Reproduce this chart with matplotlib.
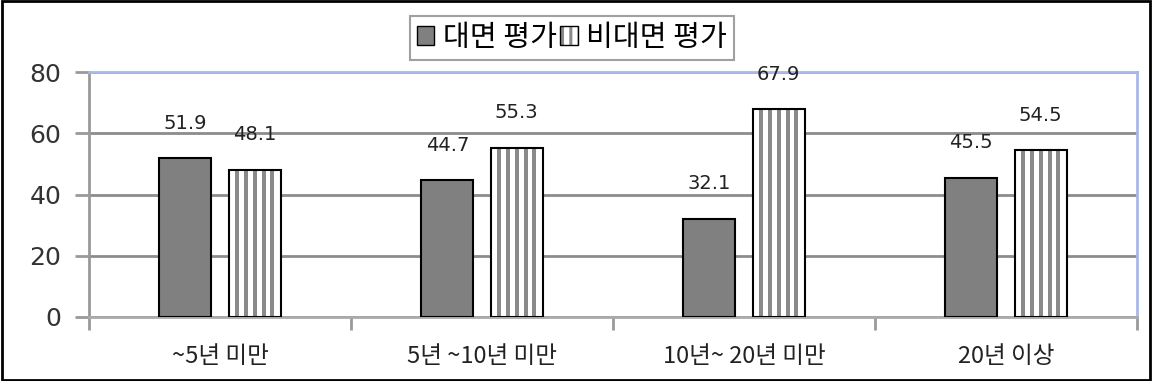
import matplotlib
matplotlib.use("Agg")
import matplotlib.pyplot as plt
import numpy as np
from matplotlib.patches import Patch
from matplotlib.legend_handler import HandlerTuple

plt.rcParams['font.family'] = ['Noto Sans CJK KR', 'DejaVu Sans']
plt.rcParams['hatch.linewidth'] = 2.2

categories = ['~5년 미만', '5년 ~10년 미만', '10년~ 20년 미만', '20년 이상']
face_to_face = [51.9, 44.7, 32.1, 45.5]
non_face = [48.1, 55.3, 67.9, 54.5]
series_names = ['대면 평가', '비대면 평가']
yticks = [0, 20, 40, 60, 80]

fig = plt.figure(figsize=(11.52, 3.81), dpi=100)
ax = fig.add_axes([89 / 1152, 1 - 317 / 381, 1048 / 1152, 245 / 381])

ind = np.arange(len(categories))
width = 0.2
gap = 0.065
off = (width + gap) / 2
stripe = '#8a8a8a'
stripe_w = 0.0153     # vertical stripe width (category units)
stripe_step = 0.0336  # stripe spacing

b1 = ax.bar(ind - off, face_to_face, width, color='#808080', edgecolor='black', linewidth=1.5, zorder=3)
# striped bars: white fill, gray vertical stripes, black outline
ax.bar(ind + off, non_face, width, color='white', linewidth=0, zorder=3)
for k in range(-2, 3):
    ax.bar(ind + off + k * stripe_step, non_face, stripe_w, color=stripe, linewidth=0, zorder=3.2)
b2 = ax.bar(ind + off, non_face, width, fill=False, edgecolor='black', linewidth=1.5, zorder=3.5)

for bars, vals in [(b1, face_to_face), (b2, non_face)]:
    for r, v in zip(bars, vals):
        ax.annotate(f'{v}', (r.get_x() + r.get_width() / 2, v), xytext=(0, 25),
                    textcoords='offset points', ha='center', va='center',
                    fontsize=14, family='DejaVu Sans', color='#222222', zorder=4)

ax.set_xlim(-0.5, len(categories) - 0.5)
ax.set_ylim(0, 80)
ax.set_yticks(yticks)
ax.set_yticklabels([str(t) for t in yticks], fontsize=18, family='DejaVu Sans', color='#333333')
ax.yaxis.grid(True, color='#8c8c8c', linewidth=2, zorder=0)
ax.set_axisbelow(True)

ax.set_xticks(np.arange(-0.5, len(categories), 1.0))
ax.set_xticklabels([])
ax.set_xticks(ind, minor=True)
ax.set_xticklabels(categories, minor=True, fontsize=17, color='#222222')
ax.tick_params(axis='x', which='minor', length=0, pad=20)
ax.tick_params(axis='x', which='major', length=9, width=2, color='#999999')
ax.tick_params(axis='y', length=10, width=2, color='#999999', pad=10)

ax.spines['left'].set_color('#999999')
ax.spines['left'].set_linewidth(2)
ax.spines['bottom'].set_color('#aaaaaa')
ax.spines['bottom'].set_linewidth(2)
ax.spines['top'].set_color('#a8b8e8')
ax.spines['top'].set_linewidth(2)
ax.spines['right'].set_color('#a8b8e8')
ax.spines['right'].set_linewidth(2)

h1 = Patch(facecolor='#808080', edgecolor='black', linewidth=1)
h2 = (Patch(facecolor='white', edgecolor=stripe, linewidth=0, hatch='||'),
      Patch(fill=False, edgecolor='black', linewidth=1))
leg = fig.legend([h1, h2], series_names, loc='center', bbox_to_anchor=(572 / 1152, 1 - 38 / 381),
                 ncol=2, fontsize=21, frameon=True, fancybox=False, edgecolor='#888888',
                 handlelength=0.6, handleheight=0.6, handletextpad=0.3, columnspacing=0.1,
                 borderpad=0.25, handler_map={tuple: HandlerTuple(ndivide=1, pad=0)})
leg.get_frame().set_linewidth(1.5)

# outer frame
fig.patches.append(plt.Rectangle((0.002, 0.003), 0.996, 0.994, transform=fig.transFigure,
                                 fill=False, edgecolor='black', linewidth=2))

fig.savefig('out.png', dpi=100)
